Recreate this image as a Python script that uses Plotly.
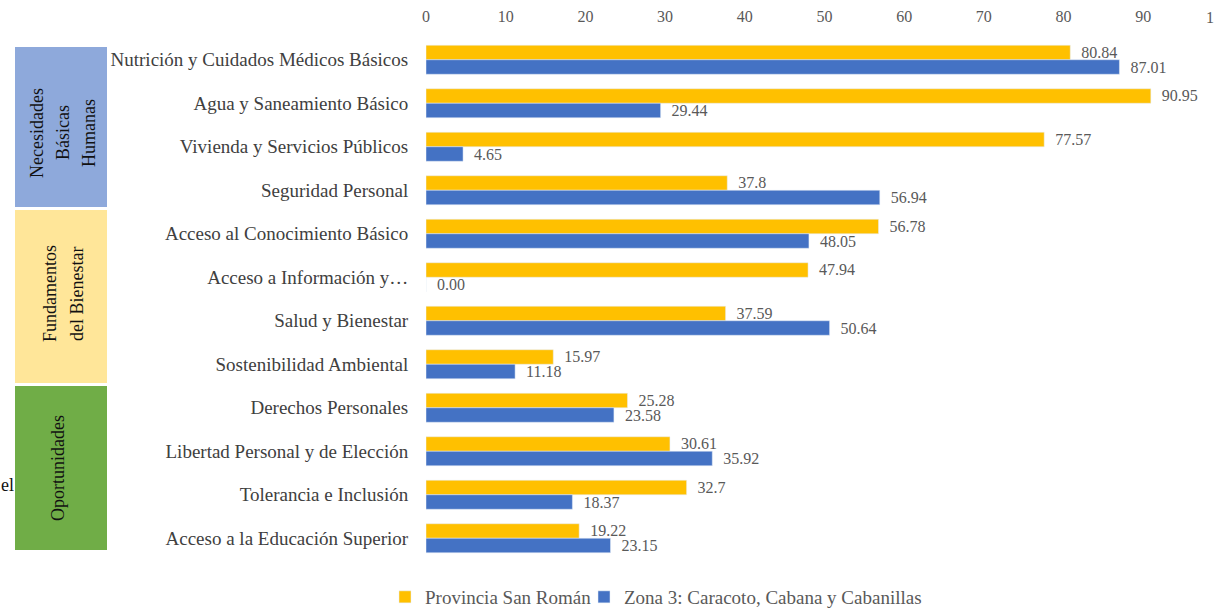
import plotly.graph_objects as go

categories = [
    "Nutrición y Cuidados Médicos Básicos",
    "Agua y Saneamiento Básico",
    "Vivienda y Servicios Públicos",
    "Seguridad Personal",
    "Acceso al Conocimiento Básico",
    "Acceso a Información y…",
    "Salud y Bienestar",
    "Sostenibilidad Ambiental",
    "Derechos Personales",
    "Libertad Personal y de Elección",
    "Tolerancia e Inclusión",
    "Acceso a la Educación Superior",
]
provincia = [80.84, 90.95, 77.57, 37.8, 56.78, 47.94, 37.59, 15.97, 25.28, 30.61, 32.7, 19.22]
provincia_txt = ["80.84", "90.95", "77.57", "37.8", "56.78", "47.94", "37.59", "15.97",
                 "25.28", "30.61", "32.7", "19.22"]
zona3 = [87.01, 29.44, 4.65, 56.94, 48.05, 0.00, 50.64, 11.18, 23.58, 35.92, 18.37, 23.15]
zona3_txt = ["87.01", "29.44", "4.65", "56.94", "48.05", "0.00", "50.64", "11.18",
             "23.58", "35.92", "18.37", "23.15"]
x_ticks = [0, 10, 20, 30, 40, 50, 60, 70, 80, 90]

# dimension boxes on the left: (lines, fill, top px, bottom px, line x px, text y px)
groups = [
    (["Necesidades", "Básicas", "Humanas"], "#8EA9DB", 47, 207, [37, 63, 89], 133),
    (["Fundamentos", "del Bienestar"], "#FFE699", 210, 383, [50, 77], 294),
    (["Oportunidades"], "#70AD47", 386, 550, [58], 468),
]

SERIF = "Liberation Serif, Times New Roman, serif"
GREY = "#595959"
NB = "\u00a0\u00a0"

# plot area in page pixels
W, H = 1218, 608
PL, PR, PT, PB = 426, 1211, 38, 560


def px_x(p):
    return (p - PL) / (PR - PL)


def px_y(p):
    return (PB - p) / (PB - PT)


fig = go.Figure()
fig.add_trace(go.Bar(
    y=categories, x=provincia, orientation="h", name="Provincia San Román",
    marker_color="#FFC000", text=[NB + t for t in provincia_txt], textposition="outside",
    constraintext="none", textfont=dict(family=SERIF, size=16, color=GREY),
    cliponaxis=False, legend="legend",
))
fig.add_trace(go.Bar(
    y=categories, x=zona3, orientation="h", name="Zona 3: Caracoto, Cabana y Cabanillas",
    marker_color="#4472C4", text=[NB + t for t in zona3_txt], textposition="outside",
    constraintext="none", textfont=dict(family=SERIF, size=16, color=GREY),
    cliponaxis=False, legend="legend2",
))

for lines, fill, top, bottom, xs, yc in groups:
    fig.add_shape(type="rect", xref="paper", yref="paper", x0=px_x(15), x1=px_x(107),
                  y0=px_y(bottom), y1=px_y(top), fillcolor=fill, line=dict(width=0),
                  layer="below")
    for line, lx in zip(lines, xs):
        fig.add_annotation(xref="paper", yref="paper", x=px_x(lx), y=px_y(yc),
                           xanchor="center", yanchor="middle",
                           text=line, textangle=-90, showarrow=False,
                           font=dict(family=SERIF, size=18, color="#111111"))

# stray fragments cropped from the source page
fig.add_annotation(xref="paper", yref="paper", x=px_x(7), y=px_y(485), text="el",
                   xanchor="center", yanchor="middle", showarrow=False,
                   font=dict(family=SERIF, size=18, color="#111111"))
fig.add_annotation(xref="paper", yref="paper", x=px_x(1210), y=px_y(18), text="1",
                   xanchor="center", yanchor="middle", showarrow=False,
                   font=dict(family=SERIF, size=16, color=GREY))

legend_common = dict(orientation="h", xref="container", yref="container",
                     y=1 - 597 / H, xanchor="left", yanchor="middle",
                     font=dict(family=SERIF, size=19, color=GREY), itemwidth=30,
                     bgcolor="rgba(0,0,0,0)")

fig.update_layout(
    width=W, height=H,
    margin=dict(l=PL, r=W - PR, t=PT, b=H - PB, autoexpand=False),
    paper_bgcolor="white", plot_bgcolor="white",
    barmode="group", bargap=0.333, bargroupgap=0,
    font=dict(family=SERIF, size=19, color=GREY),
    showlegend=True,
    legend=dict(x=385 / W, **legend_common),
    legend2=dict(x=584 / W, **legend_common),
)
fig.update_xaxes(side="top", range=[0, 98.5], tickvals=x_ticks, showgrid=False,
                 zeroline=False, showline=False, ticks="outside", ticklen=9,
                 tickcolor="rgba(0,0,0,0)", automargin=False,
                 tickfont=dict(family=SERIF, size=16, color=GREY))
fig.update_yaxes(autorange="reversed", showgrid=False, showline=False,
                 ticks="outside", ticklen=13, tickcolor="rgba(0,0,0,0)", automargin=False,
                 tickfont=dict(family=SERIF, size=19, color="#404040"))

fig.write_html("out.html", config={"displayModeBar": False},
               post_script="document.body.style.margin='0';")
